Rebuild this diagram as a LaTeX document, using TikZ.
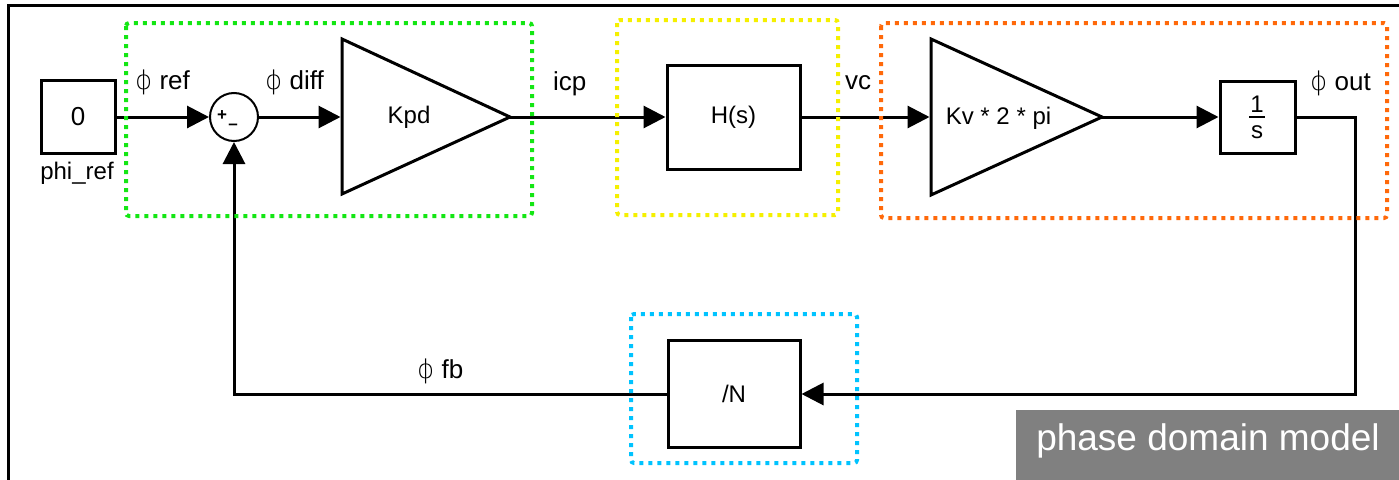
\documentclass[tikz,border=0pt]{standalone}
\usepackage{fontspec}
\setmainfont{Liberation Sans}
\newfontfamily\phifont{DejaVu Sans ExtraLight}
\usetikzlibrary{arrows.meta}

\definecolor{grpgreen}{RGB}{20,230,20}
\definecolor{grpyellow}{RGB}{245,240,0}
\definecolor{grporange}{RGB}{255,105,10}
\definecolor{grpcyan}{RGB}{0,195,255}

\newcommand{\phisym}{{\phifont ϕ}}

\begin{document}
\begin{tikzpicture}[x=1pt,y=-1pt,
  every node/.style={font=\fontsize{24}{28}\selectfont},
  blk/.style={draw,line width=3pt,inner sep=0pt},
  wire/.style={line width=3pt},
  sig/.style={wire,-{Triangle[length=22pt,width=22pt]}},
  grp/.style={line width=4pt,dash pattern=on 4pt off 5pt,rounded corners=3pt},
  lbl/.style={anchor=base west,inner sep=0pt,font=\fontsize{26}{30}\selectfont},
  sgn/.style={font=\bfseries\fontsize{17}{17}\selectfont,inner sep=0pt}]
\useasboundingbox (0,0) rectangle (1399,479);
% outer frame
\draw[line width=3pt] (8,490) -- (8,5) -- (1410,5);

% blocks
\node[blk,minimum width=74pt,minimum height=73pt,font=\fontsize{26}{30}\selectfont] (src) at (78,117) {0};
\node[anchor=base,inner sep=0pt] (srcname) at (77,179) {phi\_ref};
\node[draw,circle,line width=2pt,minimum size=48pt,inner sep=0pt] (sum) at (234,117) {};
\node[sgn] (plus) at (222,116) {+};
\node[sgn] (minus) at (233,127) {--};

\coordinate (kpdin) at (342,117);
\coordinate (kpdout) at (510,117);
\draw[wire] (342,39) -- (kpdout) -- (342,194) -- cycle;
\node (kpdtxt) at (409,117) {Kpd};

\node[blk,minimum width=133pt,minimum height=104pt] (hs) at (733.5,117) {H(s)};

\coordinate (kvin) at (931,117);
\coordinate (kvout) at (1102,117);
\draw[wire] (931,39) -- (kvout) -- (931,195) -- cycle;
\node (kvtxt) at (998.5,118) {Kv * 2 * pi};

\node[blk,minimum width=75pt,minimum height=72pt] (integ) at (1257.5,117) {};
\node[anchor=base,inner sep=0pt] (integnum) at (1257,112) {1};
\node[anchor=base,inner sep=0pt] (integden) at (1257,138) {s};
\draw[line width=2.5pt] (1249,117) -- (1265,117);

\node[blk,minimum width=132pt,minimum height=107pt] (divn) at (734,394) {/N};

% signal labels
\node[lbl] (lref) at (135,89) {\phisym{} ref};
\node[lbl] (ldiff) at (265,89) {\phisym{} diff};
\node[lbl] (licp) at (553,90) {icp};
\node[lbl] (lvc) at (845,89) {vc};
\node[lbl] (lout) at (1310,90) {\phisym{} out};
\node[lbl] (lfb) at (417,378) {\phisym{} fb};

% forward path
\draw[sig] (src) -- (sum);
\draw[sig,shorten >=1.5pt] (sum) -- (kpdin);
\draw[sig] (kpdout) -- (hs);
\draw[sig,shorten >=1.5pt] (hs) -- (kvin);
\draw[sig] (kvout) -- (integ);

% feedback path
\coordinate (outtap) at (1355,117);
\coordinate (fbturn) at (1355,394);
\coordinate (fbleft) at (234,394);
\draw[sig] (integ) -- (outtap) -- (fbturn) -- (divn);
\draw[sig] (divn) -- (fbleft) -- (sum);

% dotted groups
\draw[grp,grpgreen] (126,23) rectangle (532,216);
\draw[grp,grpyellow] (617,20) rectangle (838,215);
\draw[grp,grporange] (881,23) rectangle (1387,218);
\draw[grp,grpcyan] (631,314) rectangle (857,463);

% caption
\fill[black!50] (1016,410) rectangle (1410,490);
\node[anchor=base,inner sep=0pt,text=white,font=\fontsize{37}{40}\selectfont] (caption) at (1208,450) {phase domain model};
\end{tikzpicture}
\end{document}
